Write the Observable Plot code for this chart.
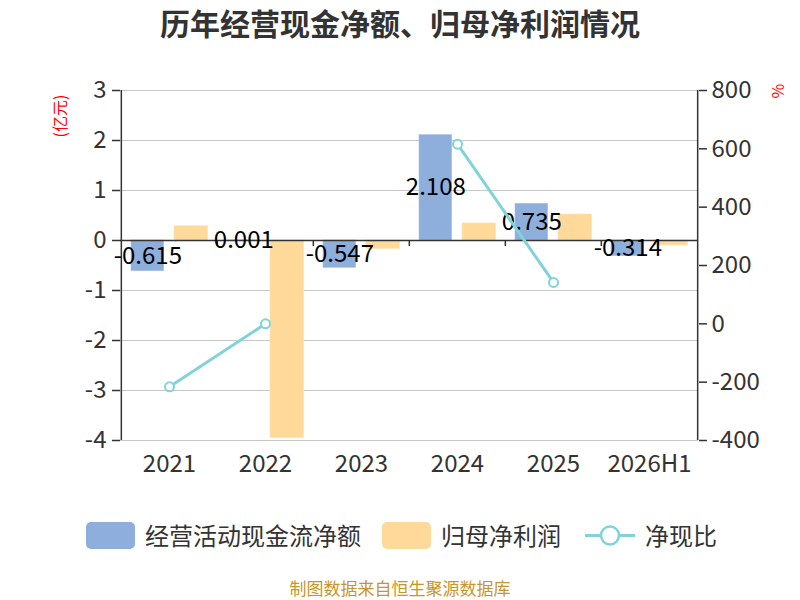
<!DOCTYPE html>
<html><head><meta charset="utf-8">
<script src="https://cdn.jsdelivr.net/npm/d3@7"></script>
<script src="https://cdn.jsdelivr.net/npm/@observablehq/plot@0.6"></script>
<style>
body{margin:0;background:#fff;font-family:"Noto Sans CJK SC","Noto Sans",sans-serif;}
#wrap{position:relative;width:800px;height:600px;overflow:hidden;background:#fff;}
.abs{position:absolute;white-space:nowrap;}
.anchor{position:absolute;width:0;height:0;}
.anchor span{position:absolute;left:0;top:0;white-space:nowrap;transform:translate(-50%,-50%) rotate(-90deg);}
.leg{position:absolute;color:#333;font-size:24px;line-height:28px;}
</style></head><body>
<div id="wrap">
  <div class="abs" style="left:0;top:3px;width:800px;text-align:center;font-size:30px;font-weight:bold;color:#333;line-height:38px;">历年经营现金净额、归母净利润情况</div>
  <div id="chart" class="abs" style="left:0;top:0"></div>
  <div class="anchor" style="left:59px;top:116px"><span style="color:red;font-size:16px;">(亿元)</span></div>
  <div class="anchor" style="left:777px;top:91px"><span style="color:red;font-size:16px;">%</span></div>
  <div id="legend"></div>
  <div class="abs" style="left:0;top:576px;width:800px;text-align:center;font-size:17px;color:#c8952a;line-height:24px;">制图数据来自恒生聚源数据库</div>
</div>
<script>
const years = ["2021", "2022", "2023", "2024", "2025", "2026H1"];
const cashFlow = [-0.615, 0.001, -0.547, 2.108, 0.735, -0.314];
const netProfit = [0.285, -3.95, -0.17, 0.342, 0.52, -0.10];
const ratio = [-216, -0.03, null, 616, 142, null];
const leftTicks = [-4, -3, -2, -1, 0, 1, 2, 3];
const rightTicks = [-400, -200, 0, 200, 400, 600, 800];
const seriesNames = ["经营活动现金流净额", "归母净利润", "净现比"];
const colors = ["#8eaedb", "#fed99a", "#80d3d9"];

const leftDomain = [-4, 3];
const rightDomain = [-400, 800];
const toLeft = v => leftDomain[0] + (v - rightDomain[0]) * (leftDomain[1] - leftDomain[0]) / (rightDomain[1] - rightDomain[0]);
const fromLeft = v => rightDomain[0] + (v - leftDomain[0]) * (rightDomain[1] - rightDomain[0]) / (leftDomain[1] - leftDomain[0]);

const rows = years.map((y, i) => ({year: y, cash: cashFlow[i], profit: netProfit[i], ratio: ratio[i]}));

const W = 800, H = 500, mL = 120, mR = 102, mT = 90, mB = 60;
const bw = (W - mL - mR) / years.length;
const pxPerUnit = (H - mT - mB) / (leftDomain[1] - leftDomain[0]);
const tickLen = 6;

const chart = Plot.plot({
  width: W, height: H,
  marginLeft: mL, marginRight: mR, marginTop: mT, marginBottom: mB,
  style: {fontFamily: '"Noto Sans CJK SC","Noto Sans",sans-serif', color: "#333", background: "transparent", overflow: "visible"},
  x: {type: "band", domain: years, padding: 0, label: null},
  y: {domain: leftDomain, label: null},
  marks: [
    Plot.gridY(leftTicks, {stroke: "#c8c8c8", strokeOpacity: 1, strokeWidth: 1.2}),
    Plot.barY(rows, {x: "year", y: "cash", fill: colors[0], stroke: "#a9c1e5", strokeWidth: 0.6, insetLeft: 10, insetRight: bw - 43}),
    Plot.barY(rows, {x: "year", y: "profit", fill: colors[1], stroke: "#ffe3b5", strokeWidth: 0.6, insetLeft: 53, insetRight: bw - 87}),
    Plot.ruleY([0], {stroke: "#333", strokeWidth: 1.5}),
    Plot.tickX(years.slice(1), {x: d => d, dx: -bw / 2, stroke: "#333", strokeWidth: 1.5,
      insetTop: leftDomain[1] * pxPerUnit, insetBottom: -leftDomain[0] * pxPerUnit - tickLen}),
    Plot.ruleX([years[0]], {dx: -bw / 2, stroke: "#333", strokeWidth: 1.5}),
    Plot.ruleX([years[years.length - 1]], {dx: bw / 2, stroke: "#333", strokeWidth: 1.5}),
    Plot.axisY(leftTicks, {anchor: "left", tickSize: 8, tickPadding: 6, fontSize: 24, stroke: "#333", strokeWidth: 1.5, fill: "#333", label: null,
      tickFormat: d => String(d)}),
    Plot.axisY(rightTicks.map(toLeft), {anchor: "right", tickSize: 8, tickPadding: 5, fontSize: 24, stroke: "#333", strokeWidth: 1.5, fill: "#333", label: null,
      tickFormat: d => String(Math.round(fromLeft(d)))}),
    Plot.axisX(years, {anchor: "bottom", tickSize: 0, tickPadding: 14, fontSize: 24, fill: "#333", label: null}),
    Plot.text(rows, {x: "year", y: d => d.cash / 2, text: d => d.cash.toFixed(3), dx: -(bw / 2 - 26.5), fontSize: 24, fill: "#000"}),
    Plot.line(rows, {x: "year", y: d => d.ratio == null ? NaN : toLeft(d.ratio), stroke: colors[2], strokeWidth: 3}),
    Plot.dot(rows.filter(d => d.ratio != null), {x: "year", y: d => toLeft(d.ratio), r: 4.5, fill: "#fff", stroke: colors[2], strokeWidth: 2})
  ]
});
document.getElementById("chart").appendChild(chart);

const legend = document.getElementById("legend");
const legItems = [
  {type: "rect", color: colors[0], name: seriesNames[0], x: 86},
  {type: "rect", color: colors[1], name: seriesNames[1], x: 382},
  {type: "line", color: colors[2], name: seriesNames[2], x: 585}
];
legItems.forEach(it => {
  const sym = document.createElement("div");
  sym.style.position = "absolute";
  sym.style.left = it.x + "px";
  if (it.type === "rect") {
    sym.style.top = "522px"; sym.style.width = "49px"; sym.style.height = "27px";
    sym.style.background = it.color; sym.style.borderRadius = "5px";
  } else {
    sym.style.top = "522px"; sym.style.width = "50px"; sym.style.height = "27px";
    sym.innerHTML = `<svg width="50" height="27"><line x1="0" y1="13.5" x2="50" y2="13.5" stroke="${it.color}" stroke-width="3"/><circle cx="25" cy="13.5" r="9" fill="#fff" stroke="${it.color}" stroke-width="2.5"/></svg>`;
  }
  legend.appendChild(sym);
  const t = document.createElement("div");
  t.className = "leg";
  t.style.left = (it.x + (it.type === "rect" ? 59 : 60)) + "px";
  t.style.top = "521px";
  t.textContent = it.name;
  legend.appendChild(t);
});
</script>
</body></html>
